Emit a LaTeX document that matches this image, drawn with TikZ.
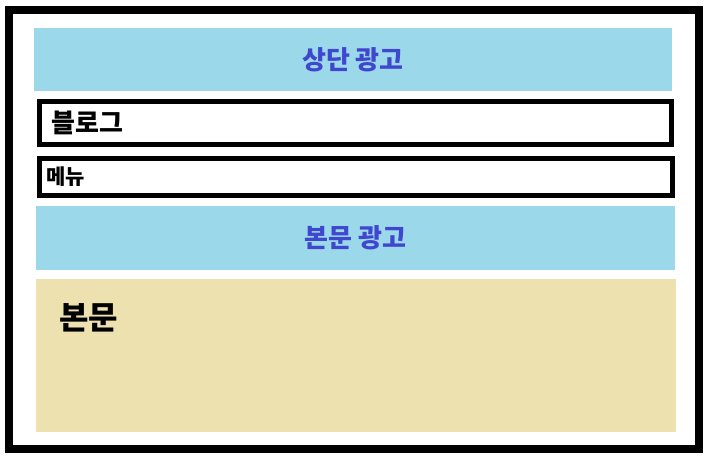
\documentclass[tikz,border=0pt]{standalone}
\usepackage{fontspec}
\setmainfont{Noto Sans CJK KR}
\usetikzlibrary{positioning}
\definecolor{adblue}{HTML}{9BD9EA}
\definecolor{adtext}{HTML}{4047CF}
\definecolor{bodytan}{HTML}{EDE1B0}
\begin{document}
\begin{tikzpicture}[x=1pt,y=-1pt,
  adbox/.style={fill=adblue,text=adtext,font=\bfseries\fontsize{26}{30}\selectfont,
    anchor=north west,inner sep=0pt,outer sep=0pt},
  barbox/.style={draw,line width=5pt,fill=white,anchor=north west,inner sep=0pt,outer sep=0pt},
  bartext/.style={anchor=west,inner sep=0pt,font=\bfseries}]
\useasboundingbox (0,0) rectangle (711,461);
\draw[line width=8pt] (9,10) rectangle (699,449);
\node[adbox,minimum width=638pt,minimum height=63pt] (topad) at (34,28) {상단 광고};
\node[barbox,minimum width=632pt,minimum height=43pt] (blog) at (39.5,101.5) {};
\node[bartext,font=\bfseries\fontsize{26}{30}\selectfont,right=11.5pt of blog.west] (blogtext) {블로그};
\node[barbox,minimum width=633pt,minimum height=37pt] (menu) at (39.5,158.5) {};
\node[bartext,font=\bfseries\fontsize{21}{24}\selectfont,right=6.5pt of menu.west] (menutext) {메뉴};
\node[adbox,minimum width=639pt,minimum height=64pt] (bodyad) at (36,206) {본문 광고};
\node[fill=bodytan,anchor=north west,inner sep=0pt,outer sep=0pt,minimum width=640pt,minimum height=153pt] (body) at (36,279) {};
\node[bartext,font=\bfseries\fontsize{32}{36}\selectfont] (bodytext) at (59,318) {본문};
\end{tikzpicture}
\end{document}
